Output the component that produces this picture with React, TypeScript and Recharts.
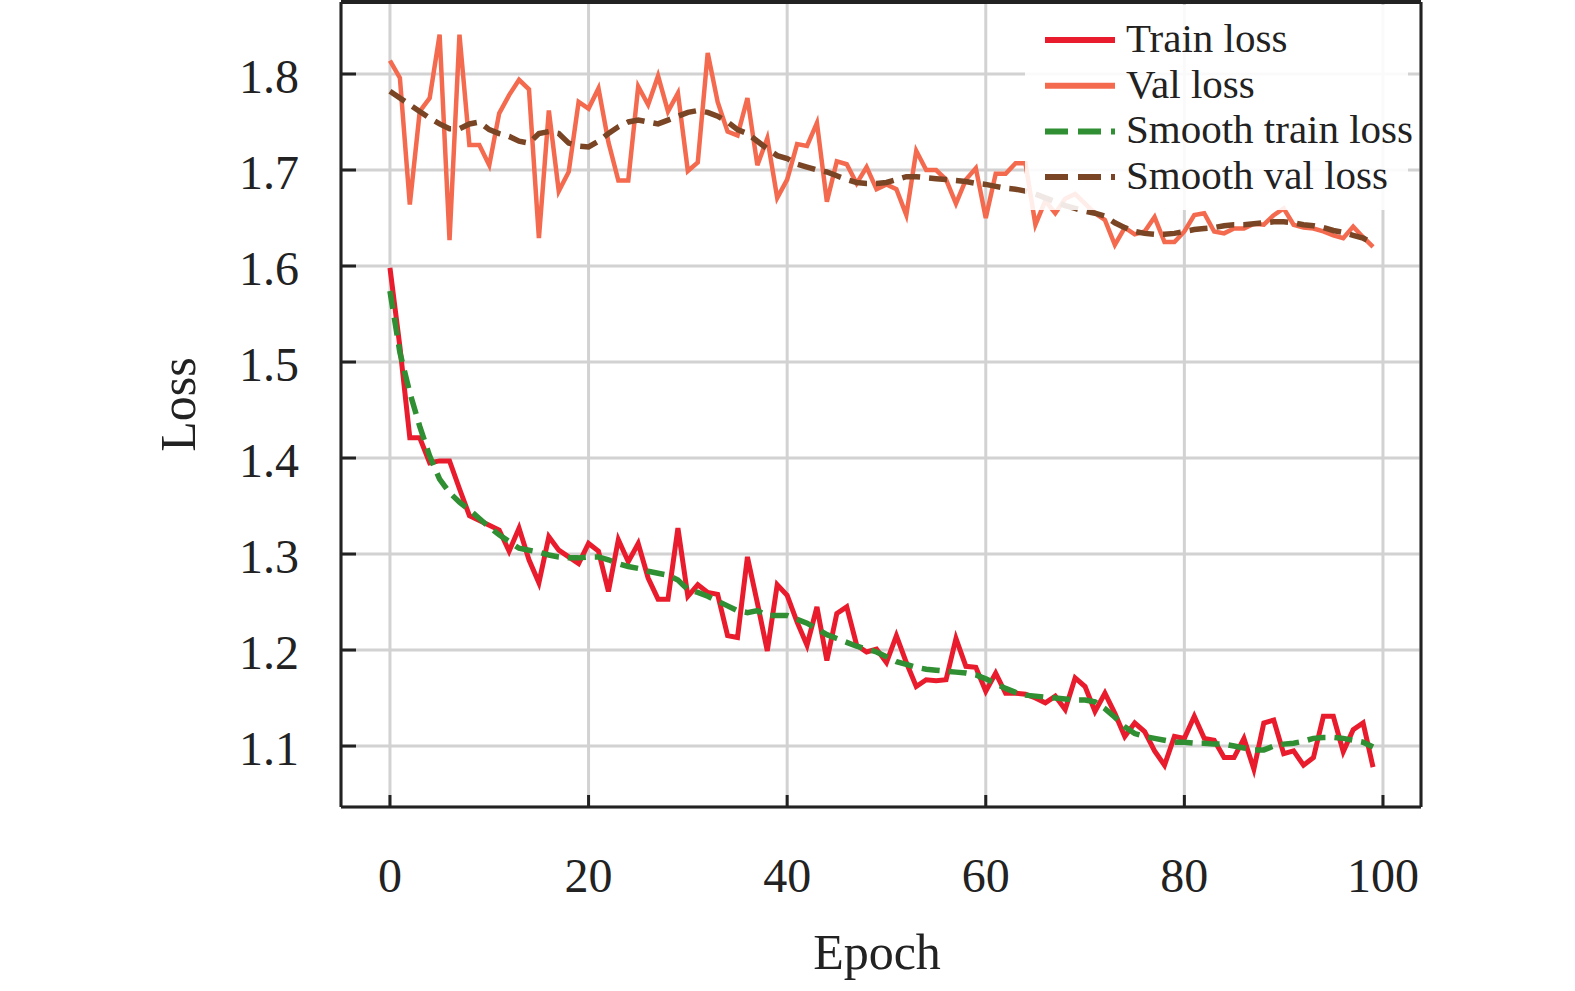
import React from 'react';
import { LineChart, Line, XAxis, YAxis, CartesianGrid, Legend } from 'recharts';

const epochs = Array.from({ length: 100 }, (_, i) => i);

const trainLoss = [
  1.598, 1.516, 1.421, 1.421, 1.395, 1.397, 1.397, 1.368, 1.34, 1.335,
  1.33, 1.325, 1.303, 1.327, 1.294, 1.27, 1.318, 1.304, 1.297, 1.29,
  1.311, 1.303, 1.261, 1.315, 1.292, 1.311, 1.275, 1.253, 1.253, 1.327,
  1.256, 1.268, 1.26, 1.258, 1.215, 1.213, 1.297, 1.249, 1.199, 1.268,
  1.257, 1.229, 1.205, 1.245, 1.189, 1.238, 1.245, 1.205, 1.198, 1.201,
  1.187, 1.215, 1.187, 1.162, 1.169, 1.168, 1.169, 1.212, 1.183, 1.182,
  1.157, 1.176, 1.155, 1.155, 1.154, 1.15, 1.145, 1.152, 1.138, 1.171,
  1.162, 1.136, 1.155, 1.134, 1.11, 1.124, 1.115, 1.095, 1.08, 1.11,
  1.108, 1.131, 1.108, 1.106, 1.088, 1.088, 1.108, 1.076, 1.124, 1.127,
  1.092, 1.095, 1.08, 1.088, 1.131, 1.131, 1.094, 1.117, 1.124, 1.078,
];

const valLoss = [
  1.814, 1.796, 1.664, 1.761, 1.775, 1.841, 1.627, 1.841, 1.726, 1.726,
  1.705, 1.759, 1.778, 1.794, 1.784, 1.629, 1.762, 1.678, 1.698, 1.771,
  1.764, 1.785, 1.729, 1.689, 1.689, 1.787, 1.768, 1.798, 1.761, 1.78,
  1.699, 1.708, 1.822, 1.771, 1.74, 1.736, 1.775, 1.705, 1.733, 1.671,
  1.69, 1.727, 1.725, 1.749, 1.667, 1.709, 1.706, 1.686, 1.703, 1.68,
  1.685, 1.68, 1.653, 1.72, 1.7, 1.7, 1.69, 1.665, 1.69, 1.702,
  1.65, 1.696, 1.696, 1.707, 1.707, 1.643, 1.668, 1.655, 1.67, 1.675,
  1.665, 1.655, 1.648, 1.622, 1.64, 1.633, 1.636, 1.651, 1.625, 1.625,
  1.636, 1.653, 1.655, 1.636, 1.634, 1.639, 1.639, 1.644, 1.643, 1.653,
  1.66, 1.643, 1.64, 1.639, 1.636, 1.632, 1.629, 1.641, 1.63, 1.62,
];

const smoothTrain = [
  1.574, 1.51, 1.468, 1.433, 1.402, 1.378, 1.364, 1.354, 1.346, 1.337,
  1.328, 1.32, 1.313, 1.306, 1.304, 1.302, 1.299, 1.297, 1.296, 1.296,
  1.297, 1.297, 1.294, 1.29, 1.287, 1.285, 1.282, 1.28, 1.278, 1.273,
  1.263, 1.26, 1.256, 1.251, 1.246, 1.241, 1.239, 1.241, 1.236, 1.236,
  1.236, 1.232, 1.228, 1.222, 1.216, 1.212, 1.208, 1.204, 1.201, 1.198,
  1.193, 1.188, 1.185, 1.182, 1.18, 1.179, 1.178, 1.177, 1.176, 1.174,
  1.17, 1.165, 1.16, 1.156, 1.153, 1.152, 1.151, 1.15, 1.149, 1.148,
  1.148, 1.146, 1.139, 1.13, 1.12, 1.113, 1.11, 1.108, 1.106, 1.104,
  1.104, 1.103, 1.103, 1.102, 1.102, 1.1, 1.098, 1.096, 1.096, 1.1,
  1.102, 1.103, 1.105, 1.108, 1.109, 1.109, 1.108, 1.106, 1.104, 1.099,
];

const smoothVal = [
  1.782, 1.775, 1.768, 1.761, 1.754, 1.748, 1.743, 1.743, 1.748, 1.75,
  1.742, 1.738, 1.735, 1.73, 1.728, 1.738, 1.74, 1.738, 1.728, 1.725,
  1.724, 1.73, 1.738, 1.745, 1.75, 1.752, 1.75, 1.748, 1.752, 1.756,
  1.76, 1.762, 1.76, 1.756, 1.75, 1.742, 1.738, 1.73, 1.722, 1.715,
  1.712, 1.706, 1.703, 1.7, 1.698, 1.694, 1.69, 1.687, 1.686, 1.686,
  1.687, 1.69, 1.693, 1.693, 1.692, 1.691, 1.69, 1.689, 1.688, 1.686,
  1.685, 1.683, 1.681, 1.68, 1.678, 1.675, 1.671, 1.667, 1.663, 1.66,
  1.657, 1.655, 1.652, 1.645, 1.64, 1.636, 1.634, 1.633, 1.633, 1.634,
  1.636, 1.638, 1.639, 1.64, 1.642, 1.643, 1.643, 1.644, 1.645, 1.646,
  1.646, 1.645, 1.643, 1.642, 1.64, 1.637, 1.635, 1.632, 1.629, 1.624,
];

const xTicks = [0, 20, 40, 60, 80, 100];
const yTicks = [1.1, 1.2, 1.3, 1.4, 1.5, 1.6, 1.7, 1.8];

const series = [
  { key: 'train', name: 'Train loss', color: '#e81c2c', dash: false },
  { key: 'val', name: 'Val loss', color: '#f46a4f', dash: false },
  { key: 'smoothTrain', name: 'Smooth train loss', color: '#2f8f32', dash: true },
  { key: 'smoothVal', name: 'Smooth val loss', color: '#7a4524', dash: true },
];

const data = epochs.map((e, i) => ({
  epoch: e,
  train: trainLoss[i],
  val: valLoss[i],
  smoothTrain: smoothTrain[i],
  smoothVal: smoothVal[i],
}));

const FONT = '"Liberation Serif", "Times New Roman", serif';
const INK = '#222';

const XTick = (props: any) => {
  const { x, y, payload } = props;
  return (
    <g>
      <line x1={x} y1={y} x2={x} y2={y - 12} stroke={INK} strokeWidth={3} />
      <text x={x} y={y + 85} textAnchor="middle" fontSize={48} fontFamily={FONT} fill={INK}>
        {payload.value}
      </text>
    </g>
  );
};

const YTick = (props: any) => {
  const { x, y, payload } = props;
  return (
    <g>
      <line x1={x} y1={y} x2={x + 15} y2={y} stroke={INK} strokeWidth={3} />
      <text x={x - 42} y={y + 19} textAnchor="end" fontSize={48} fontFamily={FONT} fill={INK}>
        {Number(payload.value).toFixed(1)}
      </text>
    </g>
  );
};

const renderLegend = () => (
  <div style={{ width: 383, height: 205, background: 'rgba(255,255,255,0.88)' }}>
    <svg width={383} height={205} style={{ overflow: 'visible' }}>
      {series.map((s, i) => {
        const cy = 35 + i * 45.7;
        return (
          <g key={s.key}>
            <line x1={20} y1={cy} x2={90} y2={cy} stroke={s.color} strokeWidth={6} strokeDasharray={s.dash ? '23 10' : undefined} />
            <text x={101} y={cy + 12} fontSize={41} fontFamily={FONT} fill={INK}>
              {s.name}
            </text>
          </g>
        );
      })}
    </svg>
  </div>
);

export default function App() {
  return (
    <div style={{ position: 'absolute', left: 0, top: 0, width: 1575, height: 991, background: '#fff' }}>
      <LineChart width={1575} height={991} data={data} margin={{ top: 0, right: 0, bottom: 0, left: 0 }}>
        <CartesianGrid stroke="#d2d2d2" strokeWidth={3} />
        <XAxis
          dataKey="epoch"
          type="number"
          domain={[-4.93, 103.83]}
          ticks={xTicks}
          height={184}
          tickSize={0}
          tickMargin={0}
          tick={<XTick />}
          axisLine={{ stroke: INK, strokeWidth: 3 }}
          allowDataOverflow
          label={{
            content: (p: any) => {
              const vb = p.viewBox || { x: 341, width: 1080 };
              return (
                <text x={vb.x + vb.width / 2 - 4} y={969} textAnchor="middle" fontSize={50} fontFamily={FONT} fill={INK}>
                  Epoch
                </text>
              );
            },
          }}
        />
        <XAxis xAxisId="top" orientation="top" dataKey="epoch" type="number" domain={[-4.93, 103.83]} height={2} tick={false} tickLine={false} axisLine={{ stroke: INK, strokeWidth: 4 }} />
        <YAxis
          type="number"
          domain={[1.0365, 1.875]}
          ticks={yTicks}
          width={341}
          tickSize={0}
          tickMargin={0}
          tick={<YTick />}
          axisLine={{ stroke: INK, strokeWidth: 3 }}
          allowDataOverflow
          label={{
            content: (p: any) => {
              const vb = p.viewBox || { y: 2, height: 805 };
              const cy = vb.y + vb.height / 2;
              return (
                <text x={195} y={cy} transform={`rotate(-90 195 ${cy})`} textAnchor="middle" fontSize={50} fontFamily={FONT} fill={INK}>
                  Loss
                </text>
              );
            },
          }}
        />
        <YAxis yAxisId="right" orientation="right" type="number" domain={[1.0365, 1.875]} width={154} tick={false} tickLine={false} axisLine={{ stroke: INK, strokeWidth: 3 }} />
        <Line dataKey="val" name="Val loss" stroke="#f46a4f" strokeWidth={4.5} dot={false} type="linear" isAnimationActive={false} />
        <Line dataKey="smoothVal" name="Smooth val loss" stroke="#7a4524" strokeWidth={5.5} strokeDasharray="18 9" dot={false} type="linear" isAnimationActive={false} />
        <Line dataKey="train" name="Train loss" stroke="#e81c2c" strokeWidth={5} dot={false} type="linear" isAnimationActive={false} />
        <Line dataKey="smoothTrain" name="Smooth train loss" stroke="#2f8f32" strokeWidth={5.5} strokeDasharray="18 9" dot={false} type="linear" isAnimationActive={false} />
        <Legend
          layout="horizontal"
          verticalAlign="middle"
          align="center"
          content={renderLegend}
          wrapperStyle={{ left: 1025, top: 5, width: 383, height: 205 }}
        />
      </LineChart>
    </div>
  );
}
